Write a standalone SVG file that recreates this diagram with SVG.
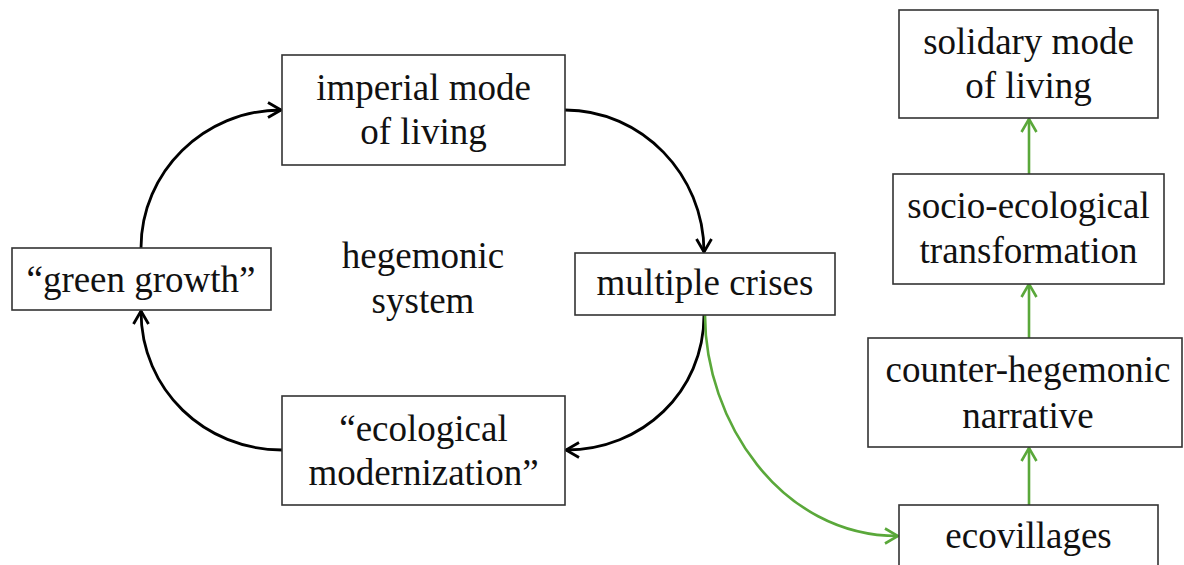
<svg xmlns="http://www.w3.org/2000/svg" width="1184" height="565" viewBox="0 0 1184 565">
<style>
.box{fill:#fff;stroke:#333;stroke-width:1.6}
.t{font-family:"Liberation Serif","Times New Roman",serif;font-size:37px;fill:#111;text-anchor:middle}
.blk{fill:none;stroke:#000;stroke-width:2.8}
.grn{fill:none;stroke:#5aa83a;stroke-width:2.6}
</style>
<defs>
<marker id="ab" viewBox="0 0 16 18" refX="14.5" refY="9" markerWidth="16" markerHeight="18" markerUnits="userSpaceOnUse" orient="auto">
<path d="M1.5,1.5 L14.5,9 L1.5,16.5" fill="none" stroke="#000" stroke-width="2.8"/>
</marker>
<marker id="ag" viewBox="0 0 16 18" refX="14.5" refY="9" markerWidth="16" markerHeight="18" markerUnits="userSpaceOnUse" orient="auto">
<path d="M1.5,1.5 L14.5,9 L1.5,16.5" fill="none" stroke="#5aa83a" stroke-width="2.6"/>
</marker>
</defs>
<rect width="1184" height="565" fill="#fff"/>
<g id="connectors">
<path class="blk" d="M141,248 C141,172 204,110 281,110" marker-end="url(#ab)"/>
<path class="blk" d="M565,110 C642,110 704,175 704,252" marker-end="url(#ab)"/>
<path class="blk" d="M704,315 C704,392 642,450 566,450" marker-end="url(#ab)"/>
<path class="blk" d="M282,450 C205,450 141,390 141,311" marker-end="url(#ab)"/>
<path class="grn" d="M705,315 C705,420 780,536 898,536" marker-end="url(#ag)"/>
<path class="grn" d="M1029,505 L1029,448" marker-end="url(#ag)"/>
<path class="grn" d="M1029,338 L1029,284" marker-end="url(#ag)"/>
<path class="grn" d="M1029,174 L1029,119" marker-end="url(#ag)"/>
</g>
<g id="imperial">
<rect class="box" x="282" y="55" width="283" height="110"/>
<text class="t" x="423.5" y="100">imperial mode</text>
<text class="t" x="423.5" y="144">of living</text>
</g>
<g id="green-growth">
<rect class="box" x="12" y="248" width="259" height="62"/>
<text class="t" x="141" y="292">“green growth”</text>
</g>
<g id="hegemonic-system">
<text class="t" x="423" y="268">hegemonic</text>
<text class="t" x="423" y="313">system</text>
</g>
<g id="multiple-crises">
<rect class="box" x="575" y="253" width="260" height="62"/>
<text class="t" x="705" y="295">multiple crises</text>
</g>
<g id="ecological-modernization">
<rect class="box" x="282" y="396" width="283" height="109"/>
<text class="t" x="423.5" y="441">“ecological</text>
<text class="t" x="423.5" y="485">modernization”</text>
</g>
<g id="solidary">
<rect class="box" x="899" y="10" width="259" height="108"/>
<text class="t" x="1028.5" y="54">solidary mode</text>
<text class="t" x="1028.5" y="98">of living</text>
</g>
<g id="socio-ecological">
<rect class="box" x="893" y="174" width="271" height="110"/>
<text class="t" x="1028.5" y="218">socio-ecological</text>
<text class="t" x="1028.5" y="263">transformation</text>
</g>
<g id="counter-hegemonic">
<rect class="box" x="868" y="338" width="314" height="109"/>
<text class="t" x="1028" y="382">counter-hegemonic</text>
<text class="t" x="1028" y="428">narrative</text>
</g>
<g id="ecovillages">
<rect class="box" x="899" y="505" width="259" height="70"/>
<text class="t" x="1028.5" y="548">ecovillages</text>
</g>
</svg>
